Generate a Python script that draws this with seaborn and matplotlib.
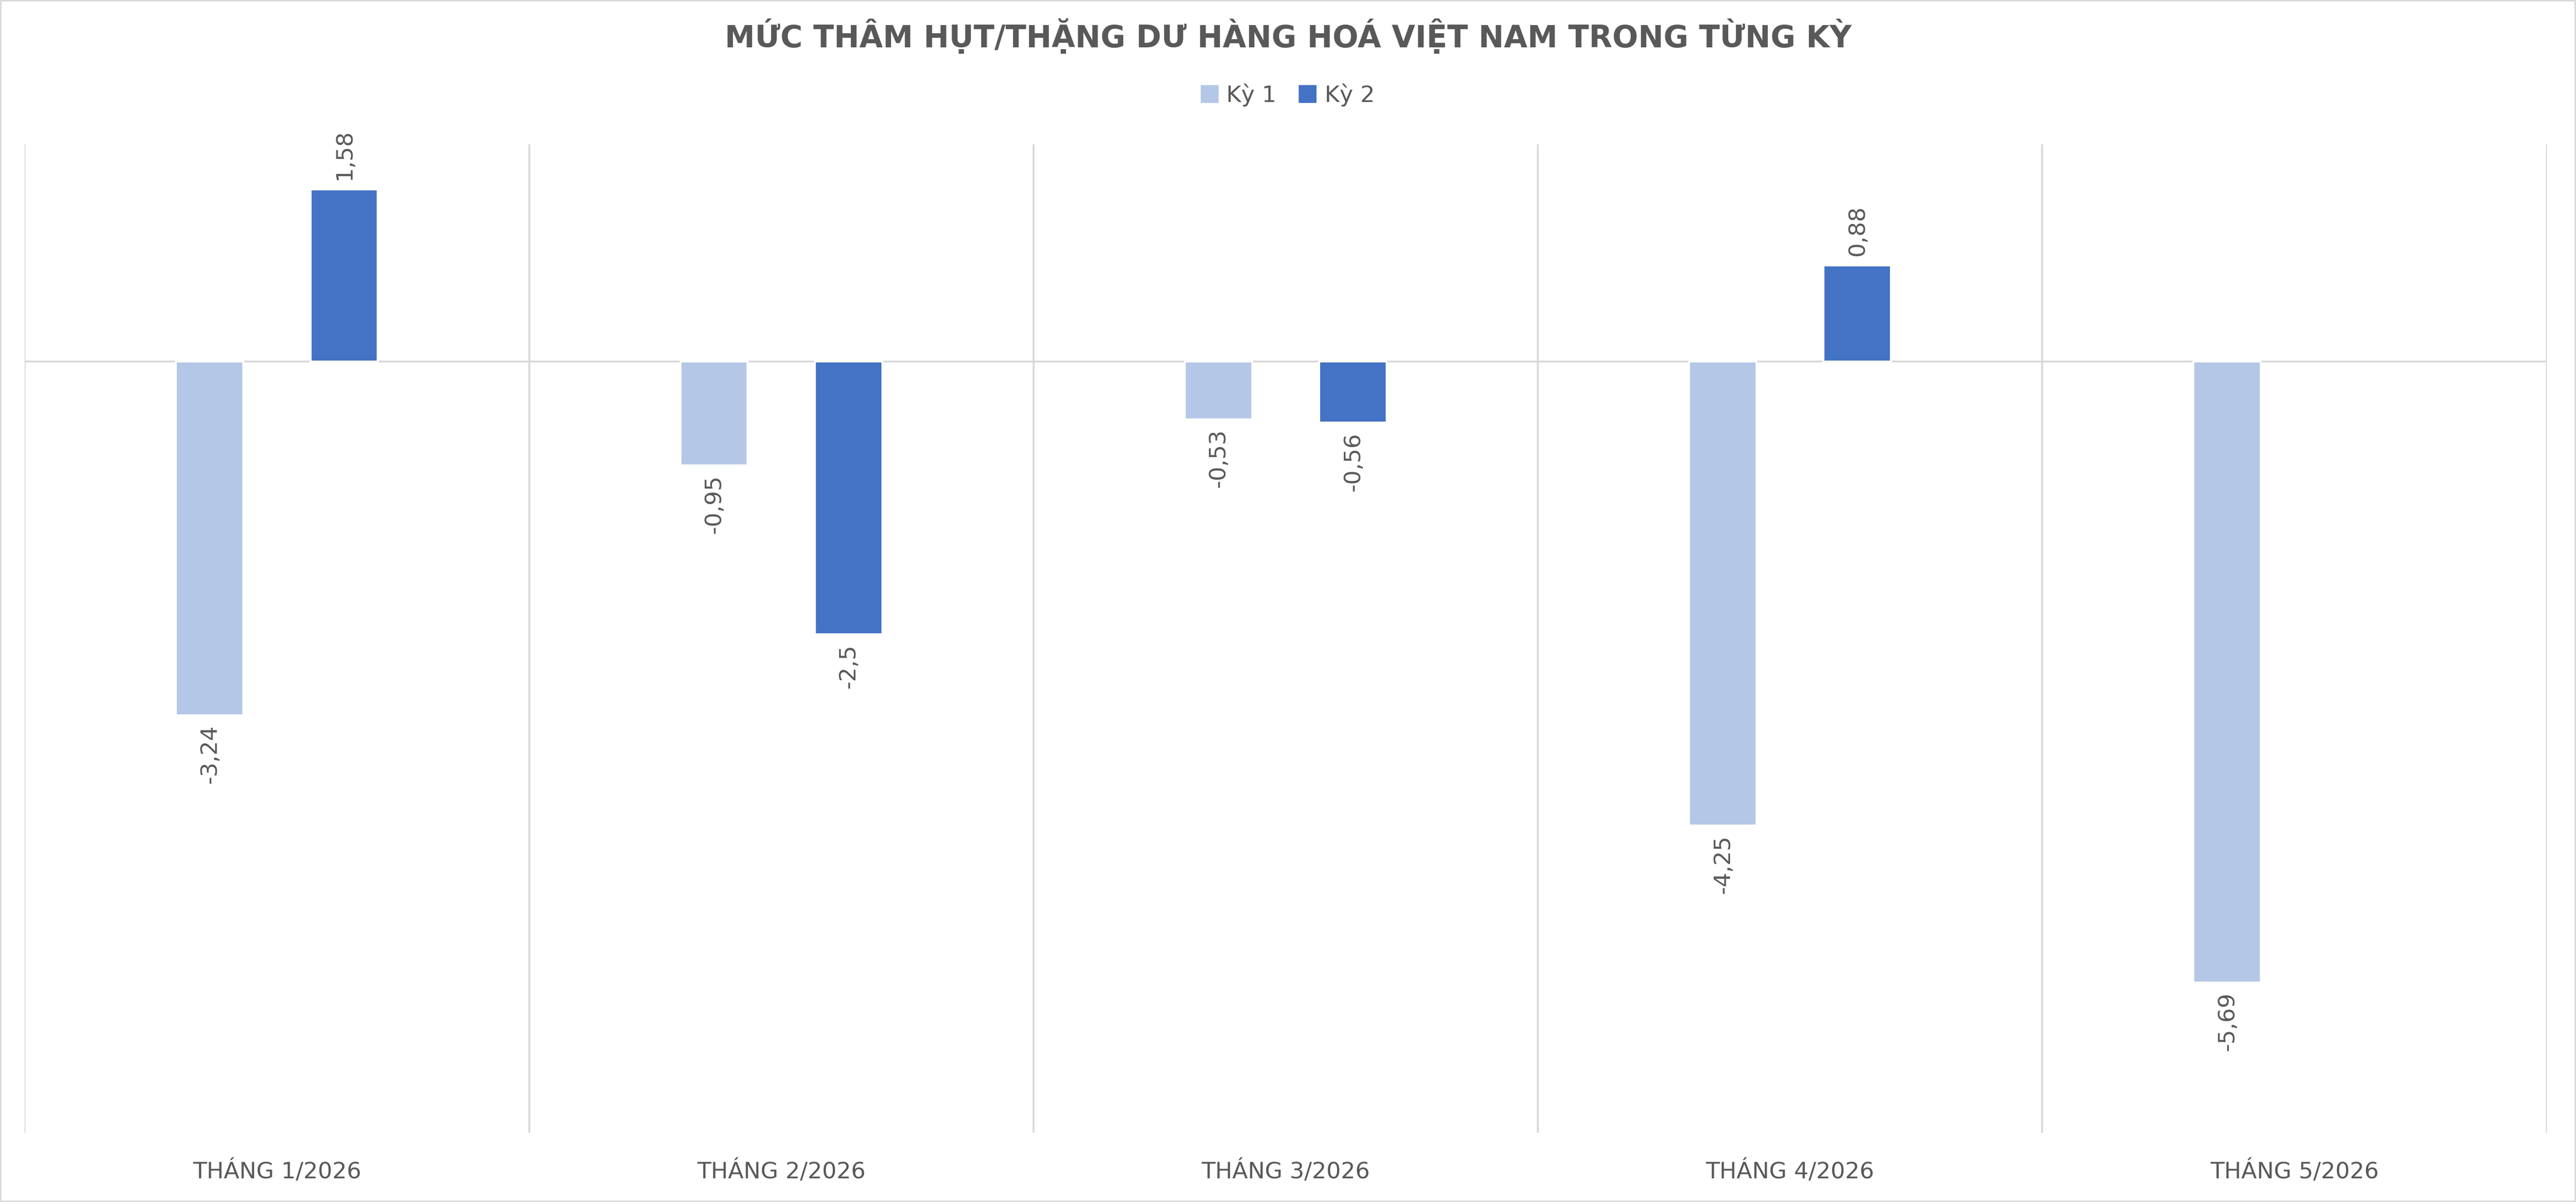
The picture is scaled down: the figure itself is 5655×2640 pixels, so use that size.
import matplotlib
matplotlib.use("Agg")
import matplotlib.pyplot as plt
import seaborn as sns
import pandas as pd
import numpy as np

categories = ["THÁNG 1/2026", "THÁNG 2/2026", "THÁNG 3/2026", "THÁNG 4/2026", "THÁNG 5/2026"]
ky1 = [-3.24, -0.95, -0.53, -4.25, -5.69]
ky2 = [1.58, -2.5, -0.56, 0.88, np.nan]
series = ["Kỳ 1", "_gap", "Kỳ 2"]
colors = {"Kỳ 1": "#B4C7E7", "_gap": "#FFFFFF", "Kỳ 2": "#4472C4"}

rows = []
for i, c in enumerate(categories):
    rows.append((c, "Kỳ 1", ky1[i]))
    rows.append((c, "_gap", np.nan))
    rows.append((c, "Kỳ 2", ky2[i]))
df = pd.DataFrame(rows, columns=["cat", "ky", "val"])

sns.set_theme(style="white")
plt.rcParams['font.family'] = ['DejaVu Sans']
fig = plt.figure(figsize=(18.85, 8.8), dpi=300)
ax = fig.add_axes([0.0096, 0.0574, 0.979, 0.8224])
sns.barplot(data=df, x="cat", y="val", hue="ky", hue_order=series, order=categories,
            palette=colors, width=0.4, gap=0, ax=ax, legend=False, errorbar=None, saturation=1)

ax.set_xlim(-0.5, 4.5)
ax.set_ylim(-7.07, 1.99)
for s in ax.spines.values():
    s.set_visible(False)
ax.set_yticks([])
ax.set_xlabel(""); ax.set_ylabel("")
for x in np.arange(-0.5, 5, 1):
    ax.axvline(x, color="#D9D9D9", lw=1, zorder=0)
ax.axhline(0, color="#D9D9D9", lw=1, zorder=0)
ax.tick_params(axis="x", length=0, pad=14, labelsize=12, labelcolor="#595959")

for p in ax.patches:
    h = p.get_height()
    if np.isnan(h) or p.get_width() == 0 or h == 0:
        continue
    x = p.get_x() + p.get_width() / 2
    txt = f"{h:g}".replace(".", ",")
    if h > 0:
        ax.annotate(txt, (x, h), xytext=(0, 5), textcoords="offset points", rotation=90,
                    ha="center", va="bottom", fontsize=12, color="#595959")
    else:
        ax.annotate(txt, (x, h), xytext=(0, -5), textcoords="offset points", rotation=90,
                    ha="center", va="top", fontsize=12, color="#595959")

fig.text(0.5, 0.97, "MỨC THÂM HỤT/THẶNG DƯ HÀNG HOÁ VIỆT NAM TRONG TỪNG KỲ", ha="center", va="center",
         fontsize=16, fontweight="bold", color="#595959")
from matplotlib.patches import Patch
handles = [Patch(color=colors["Kỳ 1"], label="Kỳ 1"), Patch(color=colors["Kỳ 2"], label="Kỳ 2")]
fig.legend(handles=handles, loc="center", bbox_to_anchor=(0.5, 0.921), ncol=2, frameon=False,
           fontsize=12, labelcolor="#595959", handlelength=0.7, handleheight=0.7, columnspacing=1.0, handletextpad=0.4)
fig.patches.append(matplotlib.patches.Rectangle((0, 0), 1, 1, transform=fig.transFigure, fill=False,
                                                edgecolor="#D9D9D9", lw=1.5))
fig.savefig("out.png", dpi=300)
